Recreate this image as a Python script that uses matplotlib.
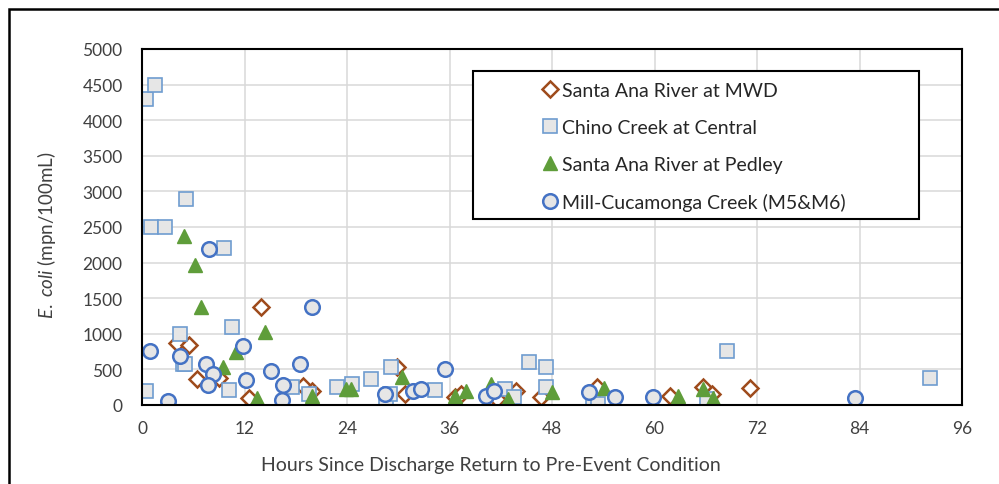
import matplotlib
matplotlib.use('Agg')
from matplotlib import pyplot as plt
from matplotlib.patches import Rectangle

plt.rcParams['font.family'] = ['Lato', 'DejaVu Sans']
plt.rcParams['mathtext.fontset'] = 'custom'
plt.rcParams['mathtext.rm'] = 'Lato'
plt.rcParams['mathtext.it'] = 'Lato:italic'

# hours since return to pre-event condition, E. coli in mpn/100mL
mwd_hours = [13.9, 4.1, 5.5, 6.4, 9.0, 12.5, 18.9, 19.9, 29.9, 30.8, 36.6, 37.3,
             41.6, 43.8, 46.7, 53.3, 61.8, 65.7, 66.7, 71.2]
mwd_ecoli = [1380, 865, 840, 365, 380, 100, 260, 200, 530, 155, 110, 155,
             85, 200, 110, 250, 130, 250, 155, 240]

chino_hours = [0.5, 1.5, 1.0, 2.7, 5.1, 9.6, 4.4, 4.8, 5.0, 0.5, 10.5, 10.2,
               17.6, 19.6, 22.8, 24.6, 26.8, 29.1, 28.6, 29.0, 34.3, 42.5,
               43.6, 45.3, 47.3, 47.3, 52.8, 53.4, 68.5, 92.2, 66.1]
chino_ecoli = [4300, 4500, 2500, 2500, 2900, 2200, 1000, 580, 570, 200, 1100, 210,
               250, 150, 250, 295, 365, 530, 40, 150, 215, 225,
               110, 610, 530, 250, 60, 10, 760, 380, 80]

pedley_hours = [4.9, 6.2, 6.9, 14.4, 11.0, 9.5, 13.5, 19.9, 23.9, 24.5, 30.4,
                36.6, 37.9, 40.8, 42.8, 48.0, 54.1, 62.7, 65.7, 66.8]
pedley_ecoli = [2380, 1970, 1380, 1020, 740, 530, 95, 130, 225, 225, 390,
                130, 200, 295, 85, 180, 235, 130, 225, 95]

mill_hours = [7.9, 19.9, 0.9, 4.4, 11.8, 7.5, 8.3, 7.7, 12.2, 15.1, 16.5, 18.5,
              16.4, 3.0, 35.5, 28.5, 31.7, 32.7, 40.3, 41.2, 52.3, 55.4,
              59.8, 83.5]
mill_ecoli = [2190, 1370, 760, 690, 830, 575, 435, 280, 355, 480, 280, 575,
              70, 60, 505, 155, 190, 225, 130, 200, 180, 110,
              110, 95]

x_ticks = list(range(0, 97, 12))
y_ticks = list(range(0, 5001, 500))

fig = plt.figure(figsize=(9.99, 4.85), dpi=100)
ax = fig.add_axes([142 / 999, 1 - 406 / 485, 820 / 999, 356 / 485])

ax.plot(mwd_hours, mwd_ecoli, ls='none', marker='D', ms=8, mfc='white',
        mec='#9E4B1C', mew=1.8, label='Santa Ana River at MWD', zorder=3)
ax.plot(chino_hours, chino_ecoli, ls='none', marker='s', ms=9.5, mfc='#E6E6E6',
        mec='#6E9CD0', mew=1.2, label='Chino Creek at Central', zorder=4)
ax.plot(pedley_hours, pedley_ecoli, ls='none', marker='^', ms=10, mfc='#5F9D3A',
        mec='#5F9D3A', mew=1, label='Santa Ana River at Pedley', zorder=5)
ax.plot(mill_hours, mill_ecoli, ls='none', marker='o', ms=10.5, mfc='#E6E6E6',
        mec='#4472C4', mew=1.8, label='Mill-Cucamonga Creek (M5&M6)', zorder=6)

ax.set_xlim(0, 96)
ax.set_ylim(0, 5000)
ax.set_xticks(x_ticks)
ax.set_yticks(y_ticks)
ax.grid(True, color='#D9D9D9', lw=1.1)
ax.set_axisbelow(True)
ax.tick_params(length=0, labelsize=12.5, labelcolor='#404040')
ax.tick_params(axis='x', pad=11)
ax.tick_params(axis='y', pad=14)
for s in ax.spines.values():
    s.set_color('black')
    s.set_linewidth(1.5)
    s.set_zorder(7)

fig.text(491 / 999, 1 - 466 / 485, 'Hours Since Discharge Return to Pre-Event Condition',
         ha='center', va='center', fontsize=14, color='#404040')
fig.text(47 / 999, 1 - 235 / 485, r'$\mathit{E.\ coli}$ (mpn/100mL)',
         ha='center', va='center', rotation=90, fontsize=13.5, color='#404040')

# legend box drawn separately so the entries can sit inside it freely
fig.patches.append(Rectangle((473 / 999, 1 - 220 / 485), 446 / 999, 148 / 485,
                             transform=fig.transFigure, facecolor='white',
                             edgecolor='black', lw=1.5, zorder=8))
leg = fig.legend(loc='upper left', bbox_to_anchor=(542 / 999, 1 - 83 / 485),
                 frameon=False, fontsize=14, handlelength=0.8, handletextpad=0.25,
                 labelspacing=1.02, borderpad=0, borderaxespad=0)
leg.set_zorder(9)
for t in leg.get_texts():
    t.set_color('#262626')

# outer chart border
fig.patches.append(Rectangle((9 / 999, -0.1), 1.2, 1.1 - 10 / 485,
                             transform=fig.transFigure, facecolor='none',
                             edgecolor='black', lw=1.8, zorder=10))

fig.savefig('out.png', dpi=100)
